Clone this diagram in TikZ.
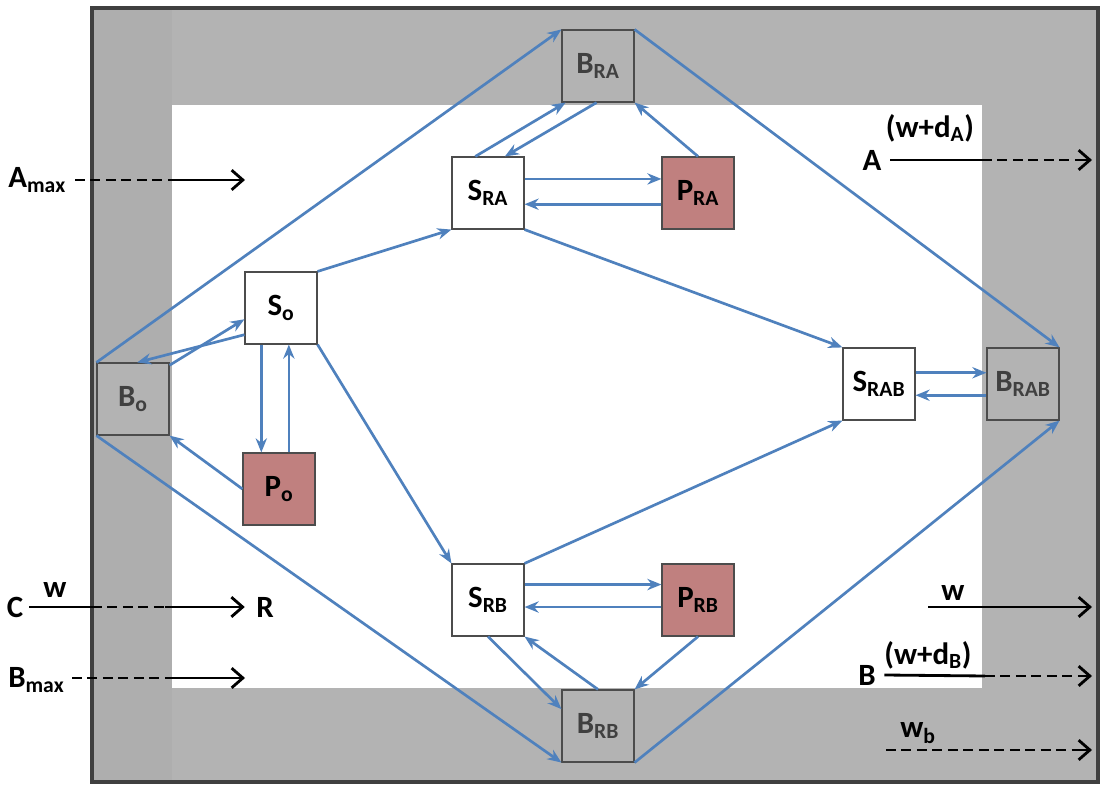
\documentclass[tikz,border=0pt]{standalone}
\usepackage{fontspec}
\setmainfont{Carlito}
\usetikzlibrary{arrows.meta}
\definecolor{frame}{RGB}{179,179,179}
\definecolor{strip}{RGB}{174,174,174}
\definecolor{flow}{RGB}{79,129,189}
\definecolor{prod}{RGB}{192,128,127}
\definecolor{boxtext}{RGB}{64,64,64}
\tikzset{
  box/.style={draw=black!70,line width=0.8pt,minimum size=1.8cm,inner sep=0pt,font=\bfseries\fontsize{22}{22}\selectfont},
  sbox/.style={box,fill=white},
  bbox/.style={box,fill=frame,text=boxtext},
  pbox/.style={box,fill=prod},
  fl/.style={draw=flow,line width=1.9pt,-{Stealth[length=10pt,width=8pt]}},
  lbl/.style={font=\bfseries\fontsize{22}{22}\selectfont,inner sep=0pt},
  io/.style={line width=2pt,dash pattern=on 7pt off 4pt},
  ios/.style={line width=2pt},
  ioend/.style={ios,-{Straight Barb[length=8pt,width=14pt]}},
}
\begin{document}
\begin{tikzpicture}[x=0.025cm,y=-0.025cm]
  \useasboundingbox (0,0) rectangle (1101,800);
  % frame
  \fill[color=frame](92,8)rectangle(1098,782);
  \fill[color=strip](92,8)rectangle(172,782);
  \fill[white](172,105)rectangle(982,688);
  \draw[line width=3pt,black!75](92,8)rectangle(1098,782);
  % compartments
  \foreach \x/\y/\s/\n/\t in {598/66/bbox/BRA/{B$_{\mathbf{RA}}$}, 488/193/sbox/SRA/{S$_{\mathbf{RA}}$},
                              698/193/pbox/PRA/{P$_{\mathbf{RA}}$}, 281/308/sbox/So/{S$_{\mathbf{o}}$},
                              133/399/bbox/Bo/{B$_{\mathbf{o}}$}, 279/489/pbox/Po/{P$_{\mathbf{o}}$},
                              879/384/sbox/SRAB/{S$_{\mathbf{RAB}}$}, 1023/384/bbox/BRAB/{B$_{\mathbf{RAB}}$},
                              488/600/sbox/SRB/{S$_{\mathbf{RB}}$}, 698/600/pbox/PRB/{P$_{\mathbf{RB}}$},
                              598/726/bbox/BRB/{B$_{\mathbf{RB}}$}}{
    \node[\s](\n) at (\x,\y){\t};
  }
  % flows
  \draw[fl](Bo.north west)--(BRA.north west);
  \draw[fl](Bo.south west)--(BRB.south west);
  \draw[fl](BRA.north east)--(BRAB.north east);
  \draw[fl](BRB.south east)--(BRAB.south east);
  \draw[fl]([yshift=-2pt]Bo.north east)--([yshift=-8pt]So.west);
  \draw[fl]([yshift=-19pt]So.west)--([xshift=3pt]Bo.north);
  \draw[fl](So.north east)--(SRA.south west);
  \draw[fl](So.south east)--(SRB.north west);
  \draw[fl]([xshift=-14pt]So.south)--([xshift=-14pt]So.south |- Po.north);
  \draw[fl]([xshift=7pt]Po.north)--([xshift=7pt]Po.north |- So.south);
  \draw[fl](Po.west)--(Bo.south east);
  \draw[fl]([xshift=-9pt]SRA.north)--([xshift=-23pt]BRA.south);
  \draw[fl]([xshift=-1pt]BRA.south)--([xshift=12pt]SRA.north);
  \draw[fl]([yshift=10pt]SRA.east)--([yshift=10pt]PRA.west);
  \draw[fl]([yshift=-8pt]PRA.west)--([yshift=-8pt]SRA.east);
  \draw[fl](PRA.north)--(BRA.south east);
  \draw[fl](SRA.south east)--(SRAB.north west);
  \draw[fl](SRB.north east)--(SRAB.south west);
  \draw[fl]([yshift=8pt]SRAB.east)--([yshift=8pt]BRAB.west);
  \draw[fl]([yshift=-8pt]BRAB.west)--([yshift=-8pt]SRAB.east);
  \draw[fl]([yshift=11pt]SRB.east)--([yshift=11pt]PRB.west);
  \draw[fl]([yshift=-5pt]PRB.west)--([yshift=-5pt]SRB.east);
  \draw[fl](PRB.south)--(BRB.north east);
  \draw[fl](SRB.south)--([yshift=-14pt]BRB.north west);
  \draw[fl](BRB.north)--(SRB.south east);
  % inputs and outputs
  \node[lbl,anchor=west](Amax) at (8,180){A$_{\mathbf{max}}$};
  \draw[io](75,180)--(172,180);
  \draw[ioend](172,180)--(245,180);
  \node[lbl](C) at (15,607){C};
  \node[lbl](wC) at (55,590){w};
  \node[lbl](R) at (265,607){R};
  \coordinate (c1) at (92,607);
  \coordinate (c2) at (165,607);
  \draw[ios]([xshift=4pt]C.east)--(c1);
  \draw[io](c1)--(c2);
  \draw[ioend](c2)--([xshift=-8pt]R.west);
  \node[lbl,anchor=west](Bmax) at (8,680){B$_{\mathbf{max}}$};
  \draw[io](72,678)--(165,678);
  \draw[ioend](165,678)--(245,678);
  \node[lbl](A) at (872,160){A};
  \node[lbl](wA) at (930,128){(w+d$_{\mathbf{A}}$)};
  \coordinate (a1) at (982,160);
  \draw[ios]([xshift=6pt]A.east)--(a1);
  \draw[io](a1)--(1082,160);
  \draw[ioend](1080,160)--(1092,160);
  \node[lbl](wR) at (953,593){w};
  \draw[ioend](928,607)--(1092,607);
  \node[lbl](B) at (867,675){B};
  \node[lbl](wB) at (928,655){(w+d$_{\mathbf{B}}$)};
  \coordinate (b1) at (985,676);
  \draw[ios]([xshift=6pt]B.east)--(b1);
  \draw[io](b1)--(1082,676);
  \draw[ioend](1080,676)--(1092,676);
  \node[lbl](wb) at (918,733){w$_{\mathbf{b}}$};
  \draw[io](886,750)--(1082,750);
  \draw[ioend](1080,750)--(1092,750);
\end{tikzpicture}
\end{document}
